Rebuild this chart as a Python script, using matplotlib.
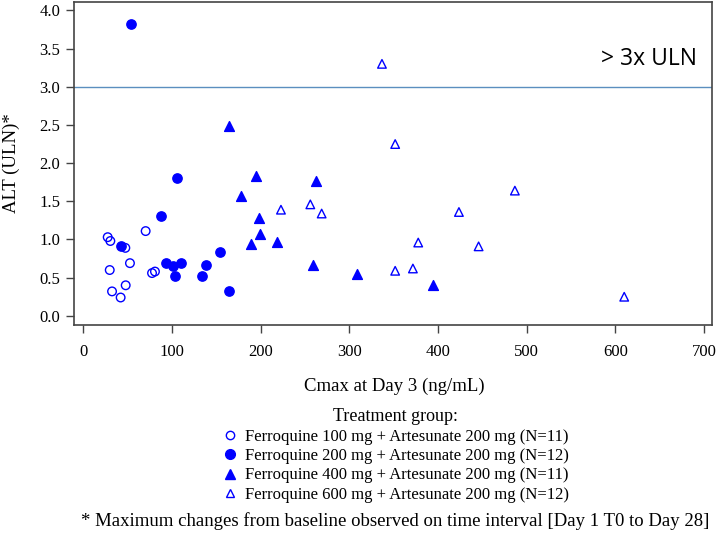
import matplotlib
matplotlib.use("Agg")
import matplotlib.pyplot as plt
from matplotlib.lines import Line2D

plt.rcParams['font.family'] = ['Liberation Serif', 'DejaVu Serif']

# Cmax at Day 3 (ng/mL) vs ALT (ULN) per treatment group
x_100 = [27.5, 30.5, 47.4, 29.8, 52.6, 70.3, 77.5, 80.8, 32.4, 47.8, 42.1]
y_100 = [1.03, 0.98, 0.89, 0.60, 0.69, 1.11, 0.56, 0.58, 0.32, 0.40, 0.24]

x_200 = [53.4, 106.0, 88.0, 42.1, 92.9, 101.1, 110.2, 103.0, 138.0, 134.2, 154.1, 163.9]
y_200 = [3.82, 1.80, 1.31, 0.91, 0.69, 0.65, 0.69, 0.52, 0.66, 0.52, 0.83, 0.33]

x_400 = [163.9, 194.7, 177.8, 197.7, 199.6, 189.0, 218.4, 262.0, 258.6, 309.0, 394.6]
y_400 = [2.48, 1.83, 1.57, 1.28, 1.07, 0.94, 0.97, 1.77, 0.66, 0.55, 0.40]

x_600 = [336.8, 351.7, 256.0, 268.8, 222.9, 486.7, 423.6, 377.7, 445.8, 371.7, 351.7, 610.0]
y_600 = [3.30, 2.25, 1.46, 1.34, 1.39, 1.64, 1.36, 0.96, 0.91, 0.62, 0.59, 0.25]

group_labels = [
    "Ferroquine 100 mg + Artesunate 200 mg (N=11)",
    "Ferroquine 200 mg + Artesunate 200 mg (N=12)",
    "Ferroquine 400 mg + Artesunate 200 mg (N=11)",
    "Ferroquine 600 mg + Artesunate 200 mg (N=12)",
]
uln_limit = 3.0

blue = "#0000ff"
fig = plt.figure(figsize=(7.17, 5.34), dpi=100)
ax = fig.add_axes([74 / 717, 1 - 325 / 534, (712 - 74) / 717, (325 - 2) / 534])

ax.scatter(x_100, y_100, s=38, marker="o", facecolors="none", edgecolors=blue, linewidths=1.0, zorder=3)
ax.scatter(x_200, y_200, s=45, marker="o", color=blue, zorder=3)
ax.scatter(x_400, y_400, s=50, marker="^", color=blue, zorder=3)
ax.scatter(x_600, y_600, s=38, marker="^", facecolors="none", edgecolors=blue, linewidths=1.0, zorder=3)

ax.axhline(uln_limit, color="#5b8fbf", linewidth=1.0, zorder=1)
ax.text(0.976, 3.36, "> 3x ULN", transform=ax.get_yaxis_transform(), ha="right", va="center",
        fontsize=16.5, family="Open Sans")

ax.set_xlim(-10.5, 709)
ax.set_ylim(-0.12, 4.11)
ax.set_xticks(range(0, 701, 100))
ax.set_yticks([0, 0.5, 1.0, 1.5, 2.0, 2.5, 3.0, 3.5, 4.0])
ax.set_yticklabels(["%.1f" % v for v in ax.get_yticks()])
ax.tick_params(axis="both", labelsize=12, length=6, width=1, color="#444444", pad=4)
ax.tick_params(axis="x", pad=8)
for sp in ax.spines.values():
    sp.set_color("#444444")
    sp.set_linewidth(1.2)

fig.text(394 / 717, 1 - 386 / 534, "Cmax at Day 3 (ng/mL)", ha="center", va="center", fontsize=13.5)
fig.text(11 / 717, 1 - 163 / 534, "ALT (ULN)*", ha="center", va="center", rotation=90, fontsize=13.5)

handles = [
    Line2D([], [], linestyle="none", marker="o", markersize=6, markerfacecolor="none", markeredgecolor=blue),
    Line2D([], [], linestyle="none", marker="o", markersize=7, color=blue),
    Line2D([], [], linestyle="none", marker="^", markersize=7, color=blue),
    Line2D([], [], linestyle="none", marker="^", markersize=6, markerfacecolor="none", markeredgecolor=blue),
]
leg = fig.legend(handles, group_labels, title="Treatment group:", loc="upper center",
                 bbox_to_anchor=(395 / 717, 1 - 400 / 534), frameon=False, fontsize=12,
                 title_fontsize=13, handlelength=1.0, handletextpad=0.4, labelspacing=0.2,
                 borderpad=0.0)

fig.text(395 / 717, 1 - 521 / 534,
         "* Maximum changes from baseline observed on time interval [Day 1 T0 to Day 28]",
         ha="center", va="center", fontsize=13.5)

fig.savefig("out.png", dpi=100)
